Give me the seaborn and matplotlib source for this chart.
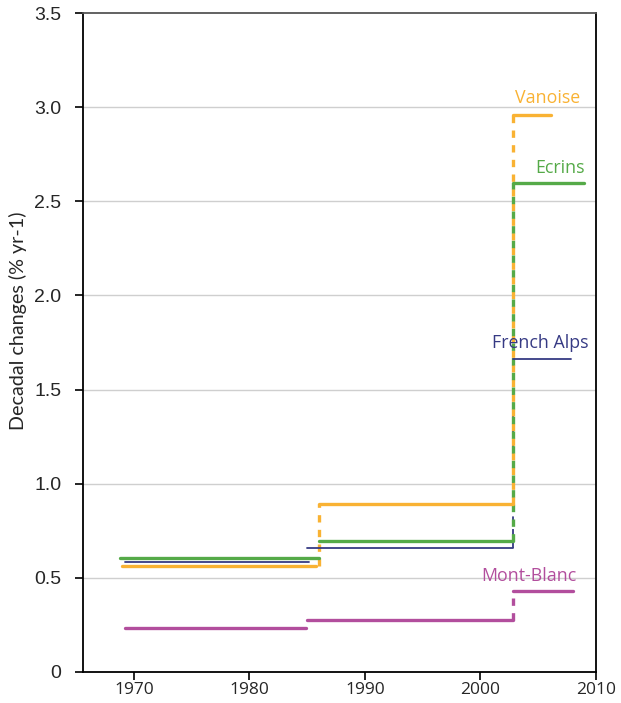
import matplotlib
matplotlib.use("Agg")
import matplotlib.pyplot as plt
import seaborn as sns
import pandas as pd

# ---- data ----
regions = ["Vanoise", "Ecrins", "French Alps", "Mont-Blanc"]
seg_starts = {
    "Vanoise": [1969.0, 1986.0, 2002.8],
    "Ecrins": [1968.8, 1986.0, 2002.8],
    "French Alps": [1969.2, 1985.0, 2002.8],
    "Mont-Blanc": [1969.2, 1985.0, 2002.8],
}
seg_ends = {
    "Vanoise": [1985.8, 2002.8, 2006.1],
    "Ecrins": [1986.0, 2002.8, 2009.0],
    "French Alps": [1985.2, 2002.8, 2007.8],
    "Mont-Blanc": [1984.9, 2002.8, 2008.0],
}
seg_values = {
    "Vanoise": [0.565, 0.89, 2.96],
    "Ecrins": [0.605, 0.695, 2.595],
    "French Alps": [0.585, 0.66, 1.66],
    "Mont-Blanc": [0.235, 0.275, 0.43],
}
# dashed step connectors: (year, from value, to value)
step_years = {
    "Vanoise": [1986.0, 2002.8],
    "Ecrins": [2002.8],
    "French Alps": [2002.8],
    "Mont-Blanc": [2002.8],
}
step_from = {
    "Vanoise": [0.565, 0.89],
    "Ecrins": [0.695],
    "French Alps": [0.66],
    "Mont-Blanc": [0.275],
}
step_to = {
    "Vanoise": [0.89, 2.96],
    "Ecrins": [2.595],
    "French Alps": [1.66],
    "Mont-Blanc": [0.43],
}
y_ticks = [0, 0.5, 1.0, 1.5, 2.0, 2.5, 3.0, 3.5]
y_ticklabels = ["0", "0.5", "1.0", "1.5", "2.0", "2.5", "3.0", "3.5"]
x_ticks = [1970, 1980, 1990, 2000, 2010]

colors = {
    "Vanoise": "#F9B233",
    "Ecrins": "#55AA48",
    "French Alps": "#363A84",
    "Mont-Blanc": "#B24E9D",
}
widths = {"Vanoise": 2.4, "Ecrins": 2.4, "French Alps": 1.3, "Mont-Blanc": 2.4}
label_pos = {
    "Vanoise": (2005.8, 3.0),
    "Ecrins": (2006.9, 2.63),
    "French Alps": (2005.2, 1.70),
    "Mont-Blanc": (2004.2, 0.46),
}

sns.set_style("white")
plt.rcParams["font.family"] = ["Open Sans", "DejaVu Sans"]

fig = plt.figure(figsize=(6.21, 7.03), dpi=100)
ax = fig.add_axes([83 / 621, 31 / 703, (596 - 83) / 621, (672 - 13) / 703])

for yv in y_ticks[1:-1]:
    ax.axhline(yv, color="#cfcfcf", lw=1.0, zorder=0)

order = ["Mont-Blanc", "French Alps", "Vanoise", "Ecrins"]
for r in order:
    rows = []
    for i, (s, e, v) in enumerate(zip(seg_starts[r], seg_ends[r], seg_values[r])):
        rows.append({"x": s, "y": v, "seg": i})
        rows.append({"x": e, "y": v, "seg": i})
    df = pd.DataFrame(rows)
    sns.lineplot(data=df, x="x", y="y", units="seg", estimator=None,
                 color=colors[r], lw=widths[r], ax=ax, sort=False, zorder=3)
    rows = []
    for i, (yr, a, b) in enumerate(zip(step_years[r], step_from[r], step_to[r])):
        rows.append({"x": yr, "y": a, "seg": i})
        rows.append({"x": yr, "y": b, "seg": i})
    dv = pd.DataFrame(rows)
    sns.lineplot(data=dv, x="x", y="y", units="seg", estimator=None,
                 color=colors[r], lw=widths[r], ax=ax, sort=False, zorder=2,
                 linestyle=(0, (2.2, 2.2)) if widths[r] > 2 else (0, (3.5, 3.5)))

for r in regions:
    x, y = label_pos[r]
    ax.text(x, y, r, color=colors[r], fontsize=12.8, ha="center", va="bottom")

ax.set_xlim(1965.6, 2010)
ax.set_ylim(0, 3.5)
ax.set_yticks(y_ticks)
ax.set_yticklabels(y_ticklabels, family=["Liberation Sans"], fontsize=14)
ax.set_xticks(x_ticks)
ax.set_xticklabels([str(t) for t in x_ticks], fontsize=12.5)
ax.tick_params(axis="both", direction="out", length=5.5, width=1.2, color="black",
               bottom=True, left=True)
ax.tick_params(axis="y", pad=10)
ax.tick_params(axis="x", pad=2)
ax.set_xlabel("")
ax.set_ylabel("Decadal changes (% yr-1)", fontsize=14.2, family=["Lato", "DejaVu Sans"])
ax.yaxis.set_label_coords(-0.109, 0.533)
for sp in ax.spines.values():
    sp.set_visible(True)
    sp.set_color("black")
    sp.set_linewidth(1.3)
ax.spines["top"].set_color("#555555")

fig.savefig("out.png", dpi=100)
